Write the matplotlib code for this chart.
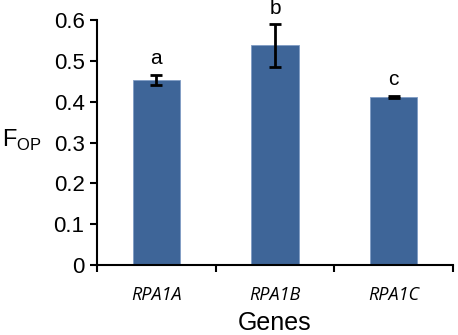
import matplotlib
matplotlib.use("Agg")
import matplotlib.pyplot as plt
import numpy as np

genes = ["RPA1A", "RPA1B", "RPA1C"]
fop = [0.453, 0.538, 0.411]
err = [0.013, 0.052, 0.003]
letters = ["a", "b", "c"]

plt.rcParams['font.family'] = ['Liberation Sans', 'DejaVu Sans']

fig = plt.figure(figsize=(4.58, 3.35), dpi=100)
ax = fig.add_axes([0.212, 0.209, 0.777, 0.731])

x = np.arange(len(genes))
ax.bar(x, fop, width=0.4, color='#3E6598', edgecolor='#7f9cc4', linewidth=0.6, zorder=2)
ax.errorbar(x, fop, yerr=err, fmt='none', ecolor='black', elinewidth=2, capsize=4, capthick=2, zorder=3)
for xi, v, e, l in zip(x, fop, err, letters):
    ax.text(xi, v + e + 0.016, l, ha='center', va='bottom', fontsize=15)

ax.set_xlim(-0.5, 2.5)
ax.set_ylim(0, 0.6)
ax.set_yticks(np.arange(0, 0.61, 0.1))
ax.set_yticklabels(['0', '0.1', '0.2', '0.3', '0.4', '0.5', '0.6'], fontsize=16)
ax.set_xticks(x)
ax.set_xticklabels(genes, fontsize=13, style='italic', family=['Open Sans', 'DejaVu Sans'])
ax.set_xticks([-0.5, 0.5, 1.5, 2.5], minor=True)
ax.tick_params(axis='x', which='major', length=0, pad=15)
ax.tick_params(axis='x', which='minor', length=5, width=1.5, direction='out')
ax.tick_params(axis='y', length=5, width=1.5, direction='out', pad=4)
for s in ['top', 'right']:
    ax.spines[s].set_visible(False)
for s in ['left', 'bottom']:
    ax.spines[s].set_linewidth(1.5)

ax.set_xlabel('Genes', fontsize=18, labelpad=5)
fig.text(0.004, 0.58, r'F$_{\mathregular{OP}}$', fontsize=17, ha='left', va='center')

fig.savefig('out.png', dpi=100)
